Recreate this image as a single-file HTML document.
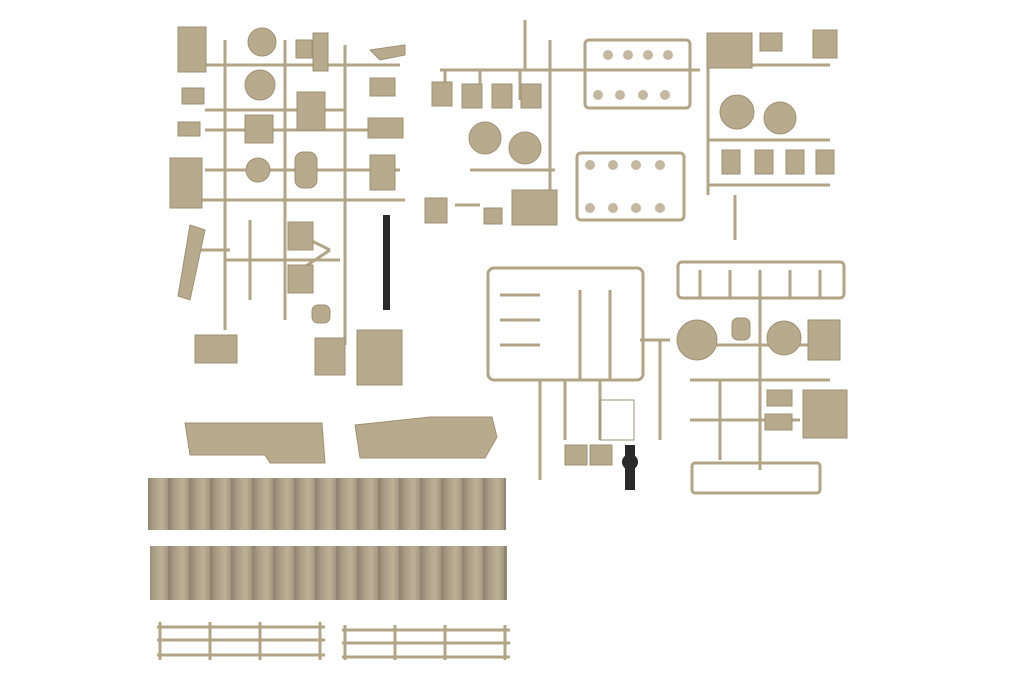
<!DOCTYPE html>
<html><head><meta charset="utf-8"><style>
html,body{margin:0;padding:0;background:#fff;width:1024px;height:683px;overflow:hidden}
</style></head><body>
<svg width="1024" height="683" viewBox="0 0 1024 683" xmlns="http://www.w3.org/2000/svg">
<defs>
<linearGradient id="tg" x1="0" x2="1" y1="0" y2="0">
<stop offset="0" stop-color="#8c8070"/><stop offset="0.3" stop-color="#a99c84"/><stop offset="0.7" stop-color="#bcb196"/><stop offset="1" stop-color="#a4977f"/>
</linearGradient>
<pattern id="tp" width="21" height="60" patternUnits="userSpaceOnUse">
<rect width="21" height="60" fill="url(#tg)"/>
</pattern>
</defs>
<g stroke="#b2a585" stroke-width="3" fill="none">
<path d="M225 40V330M285 40V320M345 45V345M175 200H405M205 65H400M205 110H345M205 130H400M205 170H400M225 260H340M195 250H230"/>
<path d="M300 235L330 250M300 270L330 250M250 220V300"/>
<path d="M440 70H700M445 70V100M480 70V100M520 70V100M550 40V215M525 20V70M470 170H555M455 205H480"/>
<path d="M708 45V195M708 65H830M708 140H830M708 185H830M735 195V240"/>
<rect x="585" y="40" width="105" height="68" rx="4"/>
<rect x="577" y="153" width="107" height="67" rx="4"/>
<rect x="488" y="268" width="155" height="112" rx="6"/>
<path d="M540 380V480M565 380V440M600 380V440M660 340V440M640 340H670M500 295H540M500 320H540M500 345H540M580 290V380M610 290V380"/>
<rect x="678" y="262" width="166" height="36" rx="4"/>
<path d="M700 270V298M730 270V298M760 270V298M790 270V298M820 270V298M760 298V470M690 380H830M690 345H830M690 420H800M720 380V460"/>
<rect x="692" y="463" width="128" height="30" rx="3"/>
<path d="M157 627H325M157 640H325M157 655H325M160 622V660M210 622V660M260 622V660M320 622V660"/>
<path d="M342 630H510M342 643H510M342 657H510M345 625V660M395 625V660M445 625V660M505 625V660"/>
</g>
<g fill="#b8ab8d" stroke="#9e9274" stroke-width="1">
<rect x="178" y="27" width="28" height="45"/><circle cx="262" cy="42" r="14"/><rect x="296" y="40" width="16" height="18"/><rect x="313" y="33" width="15" height="38"/>
<path d="M370 50L405 45V55L380 60Z"/><rect x="182" y="88" width="22" height="16"/><circle cx="260" cy="85" r="15"/><rect x="297" y="92" width="28" height="38"/><rect x="370" y="78" width="25" height="18"/>
<rect x="178" y="122" width="22" height="14"/><rect x="245" y="115" width="28" height="28"/><rect x="368" y="118" width="35" height="20"/>
<rect x="170" y="158" width="32" height="50"/><circle cx="258" cy="170" r="12"/><rect x="295" y="152" width="22" height="36" rx="8"/><rect x="370" y="155" width="25" height="35"/>
<path d="M190 225L205 230L190 300L178 296Z"/><rect x="288" y="222" width="25" height="28"/><rect x="288" y="265" width="25" height="28"/>
<rect x="195" y="335" width="42" height="28"/><rect x="315" y="338" width="30" height="37"/><rect x="357" y="330" width="45" height="55"/>
<rect x="312" y="305" width="18" height="18" rx="6"/>
<rect x="432" y="82" width="20" height="24"/><rect x="462" y="84" width="20" height="24"/><rect x="492" y="84" width="20" height="24"/><rect x="521" y="84" width="20" height="24"/>
<circle cx="485" cy="138" r="16"/><circle cx="525" cy="148" r="16"/><rect x="425" y="198" width="22" height="25"/><rect x="484" y="208" width="18" height="16"/><rect x="512" y="190" width="45" height="35"/>
<rect x="707" y="33" width="45" height="35"/><rect x="760" y="33" width="22" height="18"/><rect x="813" y="30" width="24" height="28"/>
<circle cx="737" cy="112" r="17"/><circle cx="780" cy="118" r="16"/>
<rect x="722" y="150" width="18" height="24"/><rect x="755" y="150" width="18" height="24"/><rect x="786" y="150" width="18" height="24"/><rect x="816" y="150" width="18" height="24"/>
<circle cx="697" cy="340" r="20"/><rect x="732" y="318" width="18" height="22" rx="6"/><circle cx="784" cy="338" r="17"/><rect x="808" y="320" width="32" height="40"/>
<rect x="767" y="390" width="25" height="16"/><rect x="765" y="414" width="27" height="16"/><rect x="803" y="390" width="44" height="48"/>
<rect x="600" y="400" width="34" height="40" fill="none"/>
<rect x="565" y="445" width="22" height="20"/><rect x="590" y="445" width="22" height="20"/>
<path d="M185 423H322L325 463H270L265 455H190Z"/><path d="M355 425L430 417H492L497 437L485 458H360Z"/>
</g>
<g fill="#c4b9a0"><circle cx="608" cy="55" r="5"/><circle cx="628" cy="55" r="5"/><circle cx="648" cy="55" r="5"/><circle cx="668" cy="55" r="5"/>
<circle cx="598" cy="95" r="5"/><circle cx="620" cy="95" r="5"/><circle cx="643" cy="95" r="5"/><circle cx="665" cy="95" r="5"/>
<circle cx="590" cy="165" r="5"/><circle cx="613" cy="165" r="5"/><circle cx="636" cy="165" r="5"/><circle cx="660" cy="165" r="5"/>
<circle cx="590" cy="208" r="5"/><circle cx="613" cy="208" r="5"/><circle cx="636" cy="208" r="5"/><circle cx="660" cy="208" r="5"/></g>
<rect x="383" y="215" width="7" height="95" fill="#2a2a2a"/><rect x="625" y="445" width="10" height="45" fill="#2a2a2a"/><circle cx="630" cy="462" r="8" fill="#2a2a2a"/>
<rect x="148" y="478" width="358" height="52" fill="url(#tp)"/>
<rect x="150" y="546" width="357" height="54" fill="url(#tp)"/>
</svg>
</body></html>
